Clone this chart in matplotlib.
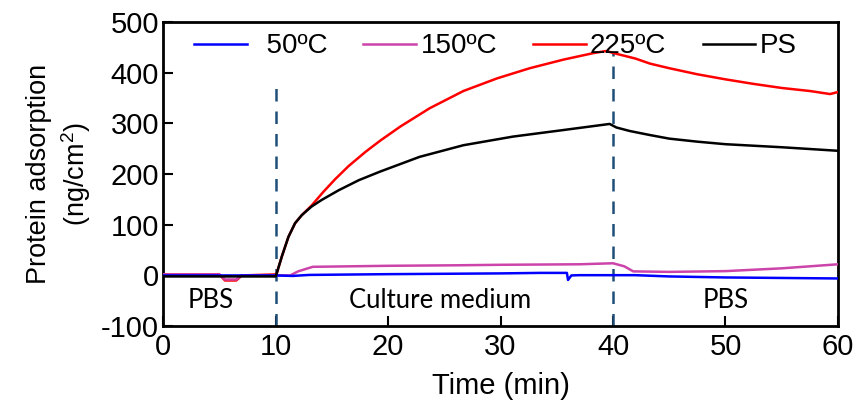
import matplotlib
matplotlib.use('Agg')
import matplotlib.pyplot as plt

plt.rcParams['font.family'] = 'Liberation Sans'
plt.rcParams['mathtext.default'] = 'regular'
plt.rcParams['axes.unicode_minus'] = False

# 50 C
t_50 = [0, 10, 11.5, 13, 20, 30, 33.5, 35.9, 36, 36.3, 37, 42, 45, 50, 55, 60]
v_50 = [0, 0, -1, 1, 2.5, 4, 5, 5, -9, 0, 0.5, 0.5, -2, -4, -5, -6]

# 150 C
t_150 = [0, 5, 5.5, 6.5, 7, 10, 11.3, 12, 13.3, 20, 26, 30, 37, 40, 41, 41.8, 45, 50, 55, 60]
v_150 = [2, 2, -8, -8, 0, 0, 0, 8, 17, 19, 20, 21, 22, 24, 18, 8, 7, 8.5, 14, 22]

# 225 C
t_225 = [0, 5, 5.5, 6.5, 7, 10, 10.1, 10.55, 11.14, 11.73, 12.33, 13.2, 14.25, 15.3,
         16.5, 18.0, 19.3, 21.1, 23.7, 26.7, 29.7, 32.6, 35.6, 38.3, 39.4, 40.2,
         42, 43.3, 45, 47.5, 50, 52.5, 55, 57.5, 59.3, 60]
v_225 = [2, 2, -10, -10, 0, 2, 4, 37, 76, 103, 119, 138, 165, 190,
         216, 244, 266, 294, 330, 364, 389, 409, 426, 439, 443, 438,
         428, 418, 409, 397, 387, 378, 370, 364, 358, 362]

# PS
t_ps = [0, 10, 10.1, 10.55, 11.14, 11.73, 12.33, 13.2, 14.1, 15.6, 17.4, 19.3,
        22.8, 26.7, 31.1, 35.6, 39.7, 40.3, 41.5, 43.3, 45, 47.5, 50, 55, 60]
v_ps = [-2, -2, 4, 37, 76, 103, 119, 136, 149, 168, 188, 205,
        234, 257, 274, 287, 299, 292, 285, 277, 270, 264, 259, 253, 246]

switch_times = [10, 40]
switch_tops = [380, 440]
phase_labels = ['PBS', 'Culture medium', 'PBS']
phase_x = [4.2, 24.6, 50]

fig = plt.figure(figsize=(8.63, 4.17), dpi=100)
ax = fig.add_axes([0.189, 0.218, 0.782, 0.729])

ax.plot(t_225, v_225, color='#ff0000', lw=1.8, label='225ºC', zorder=3)
ax.plot(t_ps, v_ps, color='black', lw=1.8, label='PS', zorder=4)
ax.plot(t_150, v_150, color='#cc44aa', lw=1.8, label='150ºC', zorder=3)
ax.plot(t_50, v_50, color='#0000ff', lw=1.8, label='  50ºC', zorder=3)

for xs, top in zip(switch_times, switch_tops):
    ax.plot([xs, xs], [-100, top], color='#1f4e79', lw=1.8, ls=(0, (5, 4)), zorder=2)

for lab, xp in zip(phase_labels, phase_x):
    ax.text(xp, -50, lab, ha='center', va='center', fontsize=18.5, family='Lato')

ax.set_xlim(0, 60)
ax.set_ylim(-100, 500)
ax.set_xticks(range(0, 61, 10))
ax.set_yticks(range(-100, 501, 100))
ax.tick_params(direction='in', length=7, width=1.5, labelsize=21)
ax.tick_params(axis='x', pad=5)
ax.tick_params(axis='y', pad=3)
for s in ax.spines.values():
    s.set_linewidth(2)

ax.set_xlabel('Time (min)', fontsize=21, labelpad=8)
ax.set_ylabel('Protein adsorption\n(ng/cm$^2$)', fontsize=19.5, labelpad=6, linespacing=1.25)

h, l = ax.get_legend_handles_labels()
order = [3, 2, 0, 1]
ax.legend([h[i] for i in order], [l[i] for i in order], ncol=4, frameon=False,
          loc='upper center', bbox_to_anchor=(0.492, 1.045), fontsize=20,
          handlelength=1.9, handletextpad=0.15, columnspacing=1.3)

fig.savefig('out.png', dpi=100)
